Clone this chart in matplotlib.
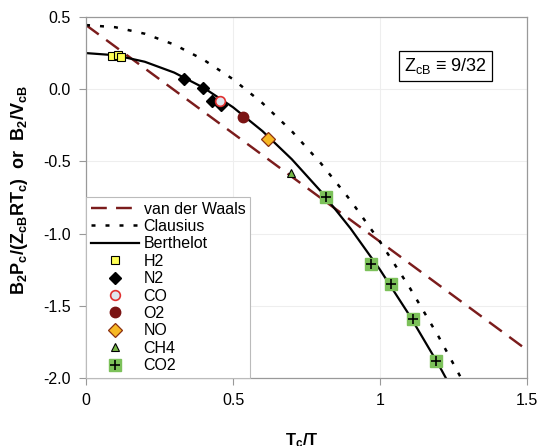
import matplotlib
matplotlib.use("Agg")
import matplotlib.pyplot as plt
from matplotlib.legend_handler import HandlerTuple

plt.rcParams['font.family'] = ['Liberation Sans', 'DejaVu Sans']
plt.rcParams['mathtext.fontset'] = 'custom'
plt.rcParams['mathtext.rm'] = 'Liberation Sans'
plt.rcParams['mathtext.it'] = 'Liberation Sans'
plt.rcParams['mathtext.bf'] = 'Liberation Sans:bold'

# model curves (x = Tc/T)
x_curve = [0.0, 0.1, 0.2, 0.3, 0.4, 0.5, 0.6, 0.7, 0.8, 0.9, 1.0, 1.1, 1.2, 1.3]
berthelot = [0.25, 0.235, 0.19, 0.115, 0.01, -0.125, -0.29, -0.485, -0.71,
             -0.965, -1.25, -1.565, -1.91, -2.285]
clausius = [0.444, 0.429, 0.384, 0.309, 0.204, 0.069, -0.096, -0.291, -0.516,
            -0.771, -1.056, -1.371, -1.716, -2.091]
x_vdw = [0.0, 1.5]
vdw = [0.444, -1.806]

# gas data
h2_x = [0.087, 0.110, 0.118]
h2_y = [0.232, 0.236, 0.222]
n2_x = [0.333, 0.399, 0.428, 0.460]
n2_y = [0.070, 0.011, -0.081, -0.109]
co_x = [0.456]
co_y = [-0.081]
o2_x = [0.533]
o2_y = [-0.190]
no_x = [0.620]
no_y = [-0.347]
ch4_x = [0.697]
ch4_y = [-0.577]
co2_x = [0.818, 0.969, 1.036, 1.113, 1.189]
co2_y = [-0.745, -1.208, -1.347, -1.593, -1.880]

fig = plt.figure(figsize=(5.42, 4.46), dpi=100)
ax = fig.add_axes([0.1587, 0.1525, 0.8136, 0.8094])

ax.grid(True, color='#eeeeee', lw=0.8, zorder=0)
ax.set_axisbelow(True)

l_vdw, = ax.plot(x_vdw, vdw, color='#7b1c1c', lw=1.75, dashes=(6.5, 3.8),
                 label='van der Waals')
l_cl, = ax.plot(x_curve, clausius, color='black', lw=1.8, dashes=(1.6, 4),
                label='Clausius')
l_be, = ax.plot(x_curve, berthelot, color='black', lw=1.6, label='Berthelot')

h_h2, = ax.plot(h2_x, h2_y, 's', ms=6, mfc='#ffff55', mec='black', mew=0.8,
                ls='none', label='H2')
h_n2, = ax.plot(n2_x, n2_y, 'D', ms=6.5, mfc='black', mec='black',
                ls='none', label='N2')
h_co, = ax.plot(co_x, co_y, 'o', ms=7, mfc='#dfe6ee', mec='#e03030', mew=1.2,
                ls='none', label='CO')
h_o2, = ax.plot(o2_x, o2_y, 'o', ms=7.5, mfc='#7b1414', mec='#7b1414',
                ls='none', label='O2')
h_no, = ax.plot(no_x, no_y, 'D', ms=7, mfc='#f7b823', mec='#8a3010', mew=0.9,
                ls='none', label='NO')
h_ch4, = ax.plot(ch4_x, ch4_y, '^', ms=6, mfc='#77b846', mec='black', mew=0.8,
                 ls='none', label='CH4')
h_co2a, = ax.plot(co2_x, co2_y, 's', ms=8, mfc='#7cc15a', mec='#7cc15a',
                  ls='none')
h_co2b, = ax.plot(co2_x, co2_y, '+', ms=7, mec='black', mew=1.2, ls='none')

ax.set_xlim(0, 1.5)
ax.set_ylim(-2.0, 0.5)
ax.set_xticks([0, 0.5, 1, 1.5])
ax.set_xticklabels(['0', '0.5', '1', '1.5'])
ax.set_yticks([0.5, 0.0, -0.5, -1.0, -1.5, -2.0])
ax.set_yticklabels(['0.5', '0.0', '-0.5', '-1.0', '-1.5', '-2.0'])
ax.tick_params(labelsize=11.5, color='#999999', length=5, width=0.8, pad=6)
for s in ax.spines.values():
    s.set_color('#999999')
    s.set_linewidth(0.9)

ax.set_xlabel(r'$\mathbf{T_c/T}$', fontsize=12)
ax.xaxis.set_label_coords(0.49, -0.147)
ax.set_ylabel(r'$\mathbf{B_2P_c/(Z_{cB}RT_c)\ \ or\ \ B_2/V_{cB}}$', fontsize=13)
ax.yaxis.set_label_coords(-0.128, 0.52)

ax.text(0.815, 0.864, r'Z$_{\mathrm{cB}}$ ≡ 9/32', transform=ax.transAxes,
        fontsize=13, ha='center', va='center',
        bbox=dict(boxstyle='square,pad=0.28', fc='white', ec='black', lw=0.9))

handles = [l_vdw, l_cl, l_be, h_h2, h_n2, h_co, h_o2, h_no, h_ch4,
           (h_co2a, h_co2b)]
labels = ['van der Waals', 'Clausius', 'Berthelot', 'H2', 'N2', 'CO', 'O2',
          'NO', 'CH4', 'CO2']
leg = ax.legend(handles, labels, loc='lower left', borderaxespad=0,
                fontsize=11.5, handlelength=3, handletextpad=0.3,
                labelspacing=0.15, borderpad=0.3, fancybox=False,
                framealpha=1, edgecolor='#bbbbbb',
                handler_map={tuple: HandlerTuple(ndivide=1)})
leg.get_frame().set_linewidth(0.8)

fig.savefig('out.png', dpi=100)
